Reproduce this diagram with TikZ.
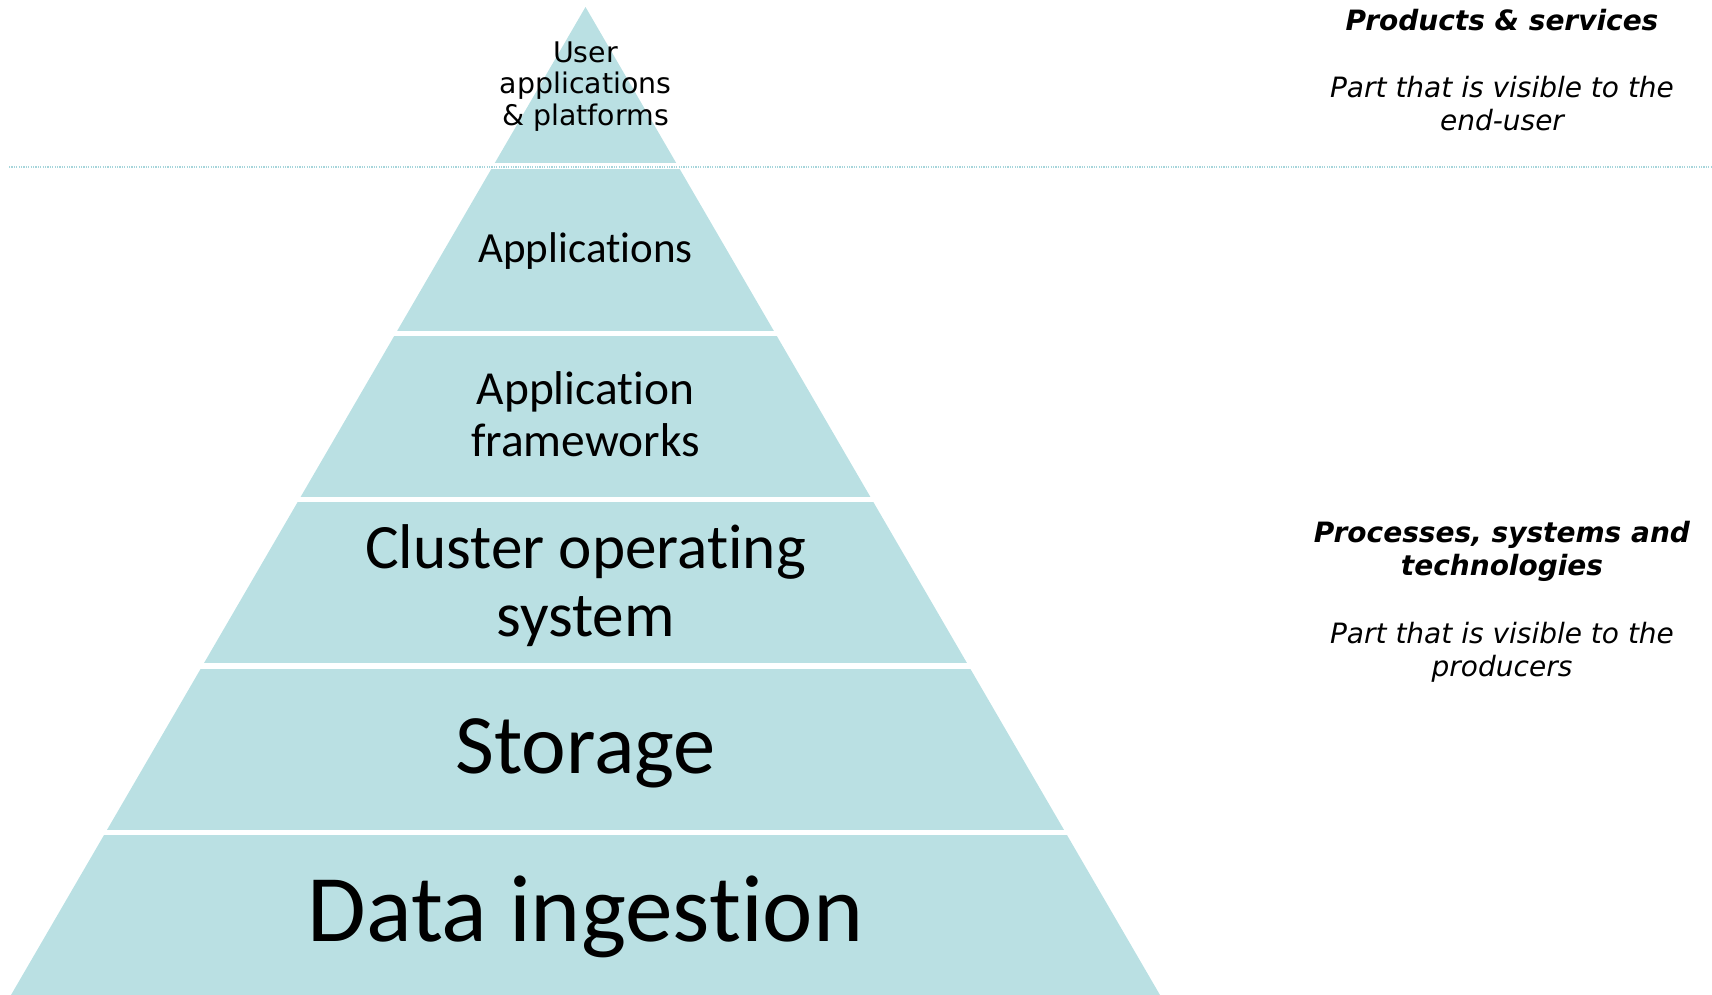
\documentclass[tikz,border=0pt]{standalone}
\usepackage{fontspec}
\setmainfont{Carlito}[Ligatures=NoCommon]
\newfontfamily\verd{DejaVu Sans}
\definecolor{layer}{HTML}{BAE0E3}
\definecolor{dotc}{HTML}{A6D5DB}
\begin{document}
\begin{tikzpicture}[x=0.5pt,y=-0.5pt,
  lbl/.style={anchor=base, align=center, inner sep=0pt, text=black},
  side/.style={anchor=base, align=center, inner sep=0pt, text=black}]
\useasboundingbox (0,0) rectangle (1712,995);
% pyramid layers
\coordinate (apex) at (585.5,7);
\coordinate (bl) at (11,995);
\coordinate (br) at (1160,995);
\begin{scope}
  \clip (apex) -- (br) -- (bl) -- cycle;
  \fill[layer] (0,0) rectangle (1712,163);
  \fill[layer] (0,169) rectangle (1712,331);
  \fill[layer] (0,336) rectangle (1712,497);
  \fill[layer] (0,502) rectangle (1712,663);
  \fill[layer] (0,669) rectangle (1712,830);
  \fill[layer] (0,835) rectangle (1712,996);
\end{scope}
% dotted separator
\coordinate (dl) at (9,167);
\coordinate (dr) at (1712,167);
\draw[dotc, line width=1pt, dash pattern=on 0.6pt off 0.6pt] (dl) -- (dr);
% layer labels (base anchor = last line baseline)
\node[lbl, font=\verd\fontsize{14.2}{15.85}\selectfont] (user) at (585.5,125.6) {User\\applications\\\& platforms};
\node[lbl, font=\fontsize{21.5}{26}\selectfont] (apps) at (585.5,262) {Applications};
\node[lbl, font=\fontsize{23.7}{26}\selectfont] (frame) at (585.5,456) {Application\\frameworks};
\node[lbl, font=\fontsize{31.6}{34.2}\selectfont] (cos) at (585.5,636.5) {Cluster operating\\system};
\node[lbl, font=\fontsize{42.3}{50}\selectfont] (stor) at (585.5,773) {Storage};
\node[lbl, font=\fontsize{47.7}{56}\selectfont] (ingest) at (585.5,941) {Data ingestion};
% side texts
\node[side, font={\verd\fontsize{14}{16.75}\selectfont\bfseries\itshape}] (prod) at (1502,31) {Products \& services};
\node[side, font={\verd\fontsize{14}{16.75}\selectfont\itshape}] (vis1) at (1502,131) {Part that is visible to the\\end-user};
\node[side, font={\verd\fontsize{14}{16.75}\selectfont\bfseries\itshape}] (proc) at (1502,575.5) {Processes, systems and\\technologies};
\node[side, font={\verd\fontsize{14}{16.75}\selectfont\itshape}] (vis2) at (1502,676.5) {Part that is visible to the\\producers};
\end{tikzpicture}
\end{document}
